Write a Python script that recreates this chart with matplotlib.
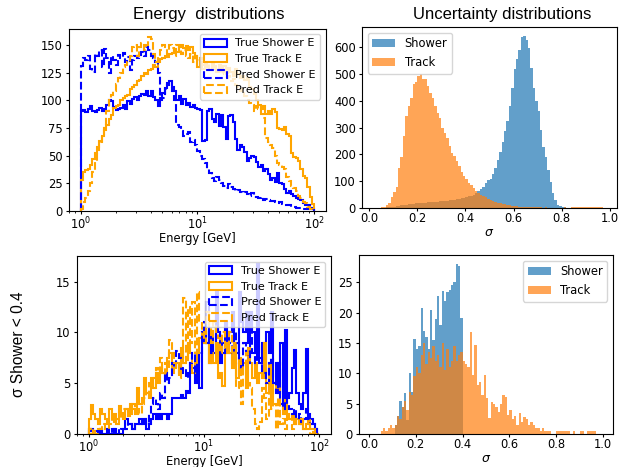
import matplotlib
matplotlib.use("Agg")
import matplotlib.pyplot as plt
import numpy as np

############ DATA: energy histograms (100 log bins, 1..100 GeV)
e_edges = np.logspace(0, 2, 101)
e_centers = np.sqrt(e_edges[:-1] * e_edges[1:])

# all events
true_shower_all = [90, 91, 89, 92, 95, 90, 89, 91, 93, 90,
                   92, 96, 100, 99, 94, 91, 92, 93, 96, 92,
                   99, 97, 101, 103, 100, 104, 106, 105, 108, 104,
                   108, 103, 100, 95, 102, 107, 111, 114, 117, 112,
                   108, 100, 104, 97, 101, 96, 98, 94, 96, 93,
                   92, 91, 63, 64, 90, 92, 83, 80, 88, 77,
                   87, 76, 65, 86, 87, 80, 65, 55, 60, 58,
                   53, 45, 48, 50, 49, 44, 40, 42, 36, 38,
                   33, 28, 30, 26, 34, 25, 24, 20, 16, 18,
                   15, 14, 12, 11, 10, 7, 5, 5, 3, 2]
true_track_all = [28, 35, 37, 38, 42, 47, 52, 58, 63, 68,
                  73, 78, 83, 87, 93, 95, 96, 100, 102, 104,
                  105, 110, 112, 114, 117, 118, 122, 125, 124, 127,
                  128, 132, 130, 135, 137, 138, 140, 139, 142, 143,
                  146, 144, 148, 150, 147, 149, 145, 148, 143, 140,
                  130, 135, 128, 133, 131, 127, 134, 130, 126, 132,
                  128, 131, 125, 129, 126, 122, 128, 124, 120, 122,
                  118, 120, 112, 110, 106, 100, 96, 92, 95, 88,
                  90, 88, 92, 89, 75, 74, 73, 76, 70, 68,
                  52, 49, 48, 45, 38, 32, 30, 22, 13, 6]
pred_shower_all = [131, 138, 136, 140, 128, 126, 142, 140, 145, 130,
                   146, 138, 125, 140, 136, 132, 141, 138, 143, 135,
                   139, 127, 136, 140, 138, 141, 144, 140, 148, 145,
                   140, 138, 135, 125, 100, 102, 110, 116, 112, 108,
                   100, 78, 76, 72, 68, 70, 71, 62, 64, 60,
                   54, 50, 47, 43, 38, 34, 30, 27, 31, 28,
                   25, 23, 21, 24, 22, 20, 18, 19, 17, 16,
                   17, 15, 14, 16, 13, 13, 12, 13, 10, 11,
                   10, 9, 9, 8, 7, 8, 6, 6, 5, 5,
                   4, 4, 3, 3, 3, 2, 2, 2, 1, 1]
pred_track_all = [2, 8, 12, 18, 25, 35, 45, 55, 62, 70,
                  78, 90, 100, 105, 108, 115, 120, 125, 130, 132,
                  135, 140, 148, 150, 140, 148, 152, 145, 150, 157,
                  155, 142, 135, 140, 145, 150, 148, 142, 150, 147,
                  140, 150, 148, 142, 145, 140, 138, 142, 135, 140,
                  136, 138, 132, 135, 130, 133, 128, 131, 126, 128,
                  124, 126, 120, 122, 117, 119, 114, 112, 108, 110,
                  104, 100, 98, 96, 90, 95, 92, 88, 84, 66,
                  62, 60, 57, 50, 43, 42, 40, 38, 31, 27,
                  23, 21, 18, 14, 12, 8, 7, 4, 2, 1]

# sigma shower < 0.4
true_shower_cut = [0.5, 0.5, 0, 0.3, 0, 0.5, 0, 0, 0.5, 0,
                   0, 0.5, 0, 0, 0, 0.5, 1.5, 1, 1, 0.5,
                   1, 1, 1.5, 1, 1.5, 0.5, 1, 1.5, 2, 1.5,
                   2, 1.5, 2, 2, 1.5, 2, 3.5, 3.5, 3.5, 3.5,
                   3.8, 3.5, 4.2, 4, 7, 6.5, 5, 8, 4.5, 10,
                   9, 13, 7, 10, 8, 14, 10, 7, 9, 11,
                   8, 10, 12, 9, 8, 14, 11, 10, 12, 9,
                   12, 10, 8, 16.7, 7, 9, 6, 10, 8, 12,
                   5, 7, 4, 9, 3, 10.2, 3.5, 4, 6.5, 8.3,
                   4, 3, 2.5, 4, 8.4, 2, 1.5, 1, 0.5, 0]
true_track_cut = [1.5, 2.9, 2, 1.5, 1, 2.5, 2, 1.5, 1, 2.5,
                  1.5, 2, 1, 2.8, 2, 1.5, 2.5, 1.8, 3, 2.5,
                  2, 4.5, 3, 3.5, 5.5, 4, 3.5, 5.5, 4.5, 6,
                  5, 6.5, 6, 5.5, 7.5, 8, 6, 6.5, 7, 6,
                  8.5, 7, 7.5, 9, 8, 6, 7, 8, 9.5, 10,
                  10, 9, 7, 8, 7, 9, 5.5, 6, 4.7, 8,
                  9, 8, 6.5, 9, 5.5, 7.5, 6, 7, 4.5, 8.5,
                  7, 5.5, 7, 5, 6, 5.5, 9, 4, 7, 3,
                  5, 4.5, 5, 3, 2, 3.5, 2, 1.5, 2, 1,
                  1.5, 1, 1.5, 0.5, 1, 1.5, 0.5, 0.5, 0, 0]
pred_shower_cut = [0.3, 0.5, 0, 0, 0, 0.5, 0, 0, 0, 0,
                   0.5, 0.5, 0.5, 0, 0.5, 0.5, 0.5, 1, 1, 0.5,
                   1, 1, 1, 1.5, 1.5, 1, 2, 3, 3.5, 3,
                   2.5, 4, 3.5, 6, 5, 5.5, 7, 6.5, 8.2, 7.5,
                   6, 6.5, 5.5, 6, 7, 8, 6, 7, 8, 10,
                   11, 9, 10, 8, 9, 12, 10, 9, 8, 9,
                   10, 9, 8, 10, 9, 7, 6.5, 9, 8, 7,
                   10, 8, 7, 9, 7.5, 6, 6, 5, 7, 7.5,
                   5, 4, 7, 3, 2.5, 4, 3, 2.5, 2, 2.5,
                   1.5, 2, 1, 1.5, 2.5, 1.5, 1, 1, 0.5, 0]
pred_track_cut = [0.5, 0, 0.5, 0, 0.5, 0.5, 1, 0.5, 0.5, 1,
                  1.5, 1, 1.5, 1.5, 2, 2.5, 2.5, 2, 2, 3,
                  2.5, 2.5, 2, 3, 3.5, 4, 5, 4.5, 5.5, 6.5,
                  6, 7.5, 6, 7, 6.5, 9.3, 8, 7, 6.5, 5.5,
                  7, 13.4, 7, 12.5, 9, 13, 8, 14, 11, 10,
                  9, 12, 10.5, 9, 11, 10, 9.5, 8, 10, 8.5,
                  9, 10, 7, 9, 4.5, 7, 3, 6.5, 8, 5,
                  4.5, 2.5, 1, 0.5, 1.2, 4.5, 3.5, 1.5, 5, 2.5,
                  3, 0.5, 3.5, 1, 1.5, 0.5, 2, 1.5, 0.5, 1,
                  1.5, 1, 1.5, 0.5, 0.5, 1, 0, 0.5, 0, 0]

############ DATA: uncertainty histograms (100 bins, 0..1)
s_edges = np.linspace(0, 1, 101)
s_centers = 0.5 * (s_edges[:-1] + s_edges[1:])

sig_shower_all = [0, 0, 0, 0, 0, 1, 1, 2, 2, 3,
                  5, 6, 8, 10, 12, 13, 14, 15, 16, 17,
                  18, 19, 20, 20, 21, 22, 22, 23, 24, 25,
                  25, 26, 27, 28, 29, 30, 32, 34, 36, 38,
                  40, 43, 46, 50, 55, 62, 70, 80, 92, 105,
                  110, 125, 151, 178, 209, 246, 289, 326, 381, 449,
                  517, 554, 590, 636, 643, 627, 597, 523, 449, 400,
                  360, 290, 228, 190, 141, 98, 55, 31, 12, 6,
                  4, 2, 1, 1, 1, 0, 0, 0, 0, 0,
                  0, 0, 0, 0, 0, 0, 0, 0, 0, 0]
sig_track_all = [0, 0, 0, 0, 1, 2, 5, 12, 20, 40,
                 60, 80, 150, 190, 270, 345, 380, 412, 461, 470,
                 492, 498, 480, 480, 455, 430, 410, 380, 355, 335,
                 300, 280, 260, 230, 205, 195, 175, 155, 135, 120,
                 110, 95, 85, 75, 65, 55, 50, 45, 40, 35,
                 30, 25, 22, 20, 18, 15, 14, 12, 10, 8,
                 7, 6, 5, 5, 4, 4, 3, 3, 2, 2,
                 2, 2, 1, 2, 1, 1, 1, 1, 1, 1,
                 1, 2, 1, 1, 2, 3, 2, 2, 3, 2,
                 2, 3, 2, 2, 2, 3, 2, 1, 0, 0]

sig_shower_cut = [0, 0, 0, 0, 0, 0, 0, 0, 0, 0,
                  0, 1.5, 3, 5.5, 4.5, 6.7, 2.3, 10, 7, 15.6,
                  14, 14.5, 20.7, 17, 16, 14, 20.5, 15.5, 19, 22.8,
                  18, 23.6, 22, 23.4, 23.7, 24.5, 25, 28.1, 27.7, 19.1] + [0] * 60
sig_track_cut = [0, 0, 0, 0, 0, 0.5, 1, 0.5, 1, 1.5,
                 1, 1.5, 3, 2.5, 4.5, 5.5, 4, 7, 6.5, 9.5,
                 11, 10, 13, 15, 11.5, 13.5, 12.5, 14.5, 12, 13,
                 11, 15, 10.5, 14, 11, 12, 14.5, 12, 13, 13.5,
                 12, 11.6, 11, 16.8, 9.7, 14.6, 8, 8.6, 6.4, 9.7,
                 5.9, 2.6, 5.3, 5, 4.5, 3.7, 5, 6.4, 6.1, 3.1,
                 4, 2.5, 3, 1.5, 3.5, 2, 2.8, 2.5, 1.5, 2,
                 1.5, 1, 1, 0.5, 1, 0.5, 0.5, 0.5, 0, 0,
                 0.5, 0.5, 0.5, 0.5, 0.5, 0.5, 0, 0.5, 0, 0,
                 0.5, 0.5, 0, 0.5, 0.5, 0.5, 0.5, 0, 0, 0]

##################### FIGURE
W, H = 619, 467
fig = plt.figure(figsize=(W / 100, H / 100), dpi=100)
tick_fs = 8.3
label_fs = 8.3
side_font = ['Liberation Sans', 'DejaVu Sans']


def px_axes(left, top, right, bottom):
    return fig.add_axes([left / W, 1 - bottom / H, (right - left) / W, (bottom - top) / H])


def style_ticks(ax):
    ax.tick_params(labelsize=tick_fs)
    ax.tick_params(axis='x', which='major', length=2.5, pad=0.6)
    ax.tick_params(axis='x', which='minor', length=1.5)
    ax.tick_params(axis='y', which='major', length=2.5, pad=2)


def energy_panel(ax, ts, tt, ps, pt):
    ax.hist(e_centers, bins=e_edges, weights=ts, histtype='step', color='blue', lw=1.5, label='True Shower E')
    ax.hist(e_centers, bins=e_edges, weights=tt, histtype='step', color='orange', lw=1.5, label='True Track E')
    ax.hist(e_centers, bins=e_edges, weights=ps, histtype='step', color='blue', lw=1.5, ls='--', label='Pred Shower E')
    ax.hist(e_centers, bins=e_edges, weights=pt, histtype='step', color='orange', lw=1.5, ls='--', label='Pred Track E')
    ax.set_xscale('log')
    ax.set_xlabel('Energy [GeV]', fontsize=label_fs)
    style_ticks(ax)
    ax.legend(loc='upper right', fontsize=8)


def sigma_panel(ax, sh, tr, loc):
    ax.hist(s_centers, bins=s_edges, weights=sh, color='C0', alpha=0.7, label='Shower')
    ax.hist(s_centers, bins=s_edges, weights=tr, color='C1', alpha=0.7, label='Track')
    ax.set_xlabel(r'$\sigma$', fontsize=9)
    ax.set_xticks([0.0, 0.2, 0.4, 0.6, 0.8, 1.0])
    style_ticks(ax)
    ax.legend(loc=loc, fontsize=8.3)


ax1 = px_axes(69, 28.5, 326, 211)
energy_panel(ax1, true_shower_all, true_track_all, pred_shower_all, pred_track_all)

ax2 = px_axes(362, 27, 617, 208)
sigma_panel(ax2, sig_shower_all, sig_track_all, 'upper left')
ax2.set_xlim(-0.03, 1.03)

ax3 = px_axes(77, 256, 331, 434)
energy_panel(ax3, true_shower_cut, true_track_cut, pred_shower_cut, pred_track_cut)

ax4 = px_axes(359, 255, 613, 434)
sigma_panel(ax4, sig_shower_cut, sig_track_cut, 'upper right')
ax4.set_xlim(-0.043, 1.043)

##################### X LABELS just below the tick labels
fig.canvas.draw()
renderer = fig.canvas.get_renderer()
for ax in (ax1, ax2, ax3, ax4):
    tick_bottom = min(t.get_window_extent(renderer).y0
                      for t in ax.get_xticklabels() if t.get_text())
    y_axes = ax.transAxes.inverted().transform((0, tick_bottom - 0.5))[1]
    ax.xaxis.set_label_coords(0.5, y_axes)

##################### TITLES
fig.text(208.5 / W, 1 - 14 / H, 'Energy  distributions', ha='center', va='center',
         fontsize=12, family=side_font)
fig.text(502 / W, 1 - 14 / H, 'Uncertainty distributions', ha='center', va='center',
         fontsize=12, family=side_font)
fig.text(19 / W, 1 - 344 / H, 'σ Shower < 0.4', ha='center', va='center', rotation=90,
         fontsize=11.2, family=side_font)

plt.savefig("out.png", dpi=100)
